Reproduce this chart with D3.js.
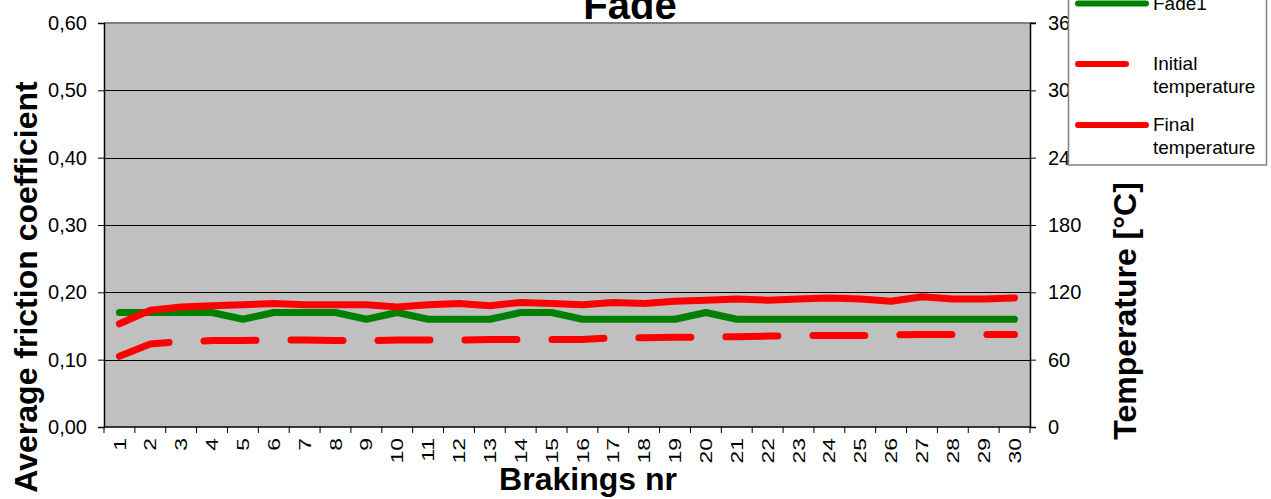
<!DOCTYPE html>
<html><head><meta charset="utf-8">
<script src="https://cdn.jsdelivr.net/npm/d3@7"></script>
<style>body{margin:0;background:#fff;overflow:hidden} text{font-family:"Liberation Sans",Arial,sans-serif}</style>
</head><body><svg id="c" width="1271" height="499"></svg>
<script>
const categories = ["1","2","3","4","5","6","7","8","9","10","11","12","13","14","15","16","17","18","19","20","21","22","23","24","25","26","27","28","29","30"];
const fade1 = [0.17,0.17,0.17,0.17,0.16,0.17,0.17,0.17,0.16,0.17,0.16,0.16,0.16,0.17,0.17,0.16,0.16,0.16,0.16,0.17,0.16,0.16,0.16,0.16,0.16,0.16,0.16,0.16,0.16,0.16];
const initialTemp = [63,74,76,77,77,77.5,77.5,77,77,77.5,77.5,77.5,78,78,78,78,79.5,79.5,80,80,80.5,81,81.5,81.5,81.5,82,82.5,82.5,82.5,82.5];
const finalTemp = [92,104,107,108,109,110,109,109,109,107,109,110,108,111,110,109,111,110,112,113,114,113,114,115,114,112,116,114,114,115];
const frictionTicks = [0,0.1,0.2,0.3,0.4,0.5,0.6];
const tempTicks = [0,60,120,180,240,300,360];
const seriesNames = ["Fade1","Initial temperature","Final temperature"];
const chartTitle = "Fade";
const xTitle = "Brakings nr";
const yTitle = "Average friction coefficient";
const y2Title = "Temperature [°C]";

const P = {l:104, r:1030, t:23, b:427};
const svg = d3.select('#c');
svg.append('rect').attr('width',1271).attr('height',499).attr('fill','#fff');

const x = d3.scaleBand().domain(categories).range([P.l,P.r]);
const y = d3.scaleLinear().domain([0,0.6]).range([P.b,P.t]);
const y2 = d3.scaleLinear().domain([0,360]).range([P.b,P.t]);
const cx = (d,i) => x(categories[i]) + x.bandwidth()/2;

// plot background
svg.append('rect').attr('x',P.l).attr('y',P.t).attr('width',P.r-P.l).attr('height',P.b-P.t).attr('fill','#c0c0c0');
// gridlines
svg.append('g').selectAll('line').data(frictionTicks.filter(d=>d>0 && d<0.6)).join('line')
  .attr('x1',P.l).attr('x2',P.r).attr('y1',d=>Math.round(y(d))+0.5).attr('y2',d=>Math.round(y(d))+0.5)
  .attr('stroke','#000').attr('stroke-width',1);
// top border
svg.append('line').attr('x1',P.l).attr('x2',P.r+6).attr('y1',P.t).attr('y2',P.t).attr('stroke','#808080').attr('stroke-width',2);

// left axis
const fmt = d => d3.format('.2f')(d).replace('.',',');
const gL = svg.append('g').attr('transform',`translate(${P.l},0)`)
  .call(d3.axisLeft(y).tickValues(frictionTicks).tickSize(6).tickPadding(11).tickFormat(fmt));
gL.selectAll('text').attr('font-size',20).attr('fill','#000').style('font-family','"Liberation Sans",Arial,sans-serif');
gL.select('.domain').attr('stroke','#000').attr('stroke-width',1.5);
gL.selectAll('.tick line').attr('stroke','#000');

// right axis
const gR = svg.append('g').attr('transform',`translate(${P.r},0)`)
  .call(d3.axisRight(y2).tickValues(tempTicks).tickSize(6).tickPadding(12).tickFormat(d=>d));
gR.selectAll('text').attr('font-size',20).attr('fill','#000').style('font-family','"Liberation Sans",Arial,sans-serif');
gR.select('.domain').attr('stroke','#000').attr('stroke-width',1.5);
gR.selectAll('.tick line').attr('stroke','#000');

// bottom axis: labels
const gB = svg.append('g').attr('transform',`translate(0,${P.b})`)
  .call(d3.axisBottom(x).tickSize(0));
gB.select('.domain').remove();
gB.selectAll('text').attr('x',0).attr('y',0).attr('dy','0.36em').attr('text-anchor','end')
  .attr('font-size',17).attr('fill','#000').style('font-family','"Liberation Sans",Arial,sans-serif')
  .attr('transform','translate(0,11) rotate(-90) scale(1.35,1)');
// bottom axis line and boundary ticks
svg.append('line').attr('x1',P.l).attr('x2',P.r).attr('y1',P.b).attr('y2',P.b).attr('stroke','#000').attr('stroke-width',1.5);
svg.append('g').selectAll('line').data(categories.concat(['end'])).join('line')
  .attr('x1',(d,i)=>P.l + i*x.step()).attr('x2',(d,i)=>P.l + i*x.step())
  .attr('y1',P.b).attr('y2',P.b+6).attr('stroke','#000').attr('stroke-width',1);

// series
const lineF = d3.line().x(cx).y(d=>y(d));
const lineT = d3.line().x(cx).y(d=>y2(d));
svg.append('path').datum(fade1).attr('d',lineF).attr('fill','none').attr('stroke','#008000')
  .attr('stroke-width',7).attr('stroke-linejoin','round').attr('stroke-linecap','round');
svg.append('path').datum(initialTemp).attr('d',lineT).attr('fill','none').attr('stroke','#ff0000')
  .attr('stroke-width',7).attr('stroke-linejoin','round').attr('stroke-linecap','round').attr('stroke-dasharray','52,35');
svg.append('path').datum(finalTemp).attr('d',lineT).attr('fill','none').attr('stroke','#ff0000')
  .attr('stroke-width',7).attr('stroke-linejoin','round').attr('stroke-linecap','round');

// titles
svg.append('text').attr('x',630).attr('y',19).attr('text-anchor','middle').attr('font-size',40).attr('font-weight','bold').text(chartTitle);
svg.append('text').attr('x',588).attr('y',490).attr('text-anchor','middle').attr('font-size',32).attr('font-weight','bold').text(xTitle);
svg.append('text').attr('transform','translate(37,287) rotate(-90)').attr('text-anchor','middle').attr('font-size',32).attr('font-weight','bold').text(yTitle);
svg.append('text').attr('transform','translate(1136,311) rotate(-90)').attr('text-anchor','middle').attr('font-size',32).attr('font-weight','bold').text(y2Title);

// legend
const lg = svg.append('g');
lg.append('rect').attr('x',1068.5).attr('y',-20).attr('width',198).attr('height',185).attr('fill','#fff').attr('stroke','#808080').attr('stroke-width',1.5);
const legendItems = [
  {name:seriesNames[0], color:'#008000', ly:3.5, x2:1148, lines:["Fade1"], ty:10},
  {name:seriesNames[1], color:'#ff0000', ly:64, x2:1128, lines:["Initial","temperature"], ty:70},
  {name:seriesNames[2], color:'#ff0000', ly:125, x2:1148, lines:["Final","temperature"], ty:131}
];
legendItems.forEach(it=>{
  lg.append('line').attr('x1',1078).attr('x2',it.x2-2).attr('y1',it.ly).attr('y2',it.ly)
    .attr('stroke',it.color).attr('stroke-width',6).attr('stroke-linecap','round');
  const t = lg.append('text').attr('x',1153).attr('y',it.ty).attr('font-size',19).attr('fill','#000');
  it.lines.forEach((s,i)=>t.append('tspan').attr('x',1153).attr('dy',i===0?0:23).text(s));
});
</script></body></html>
